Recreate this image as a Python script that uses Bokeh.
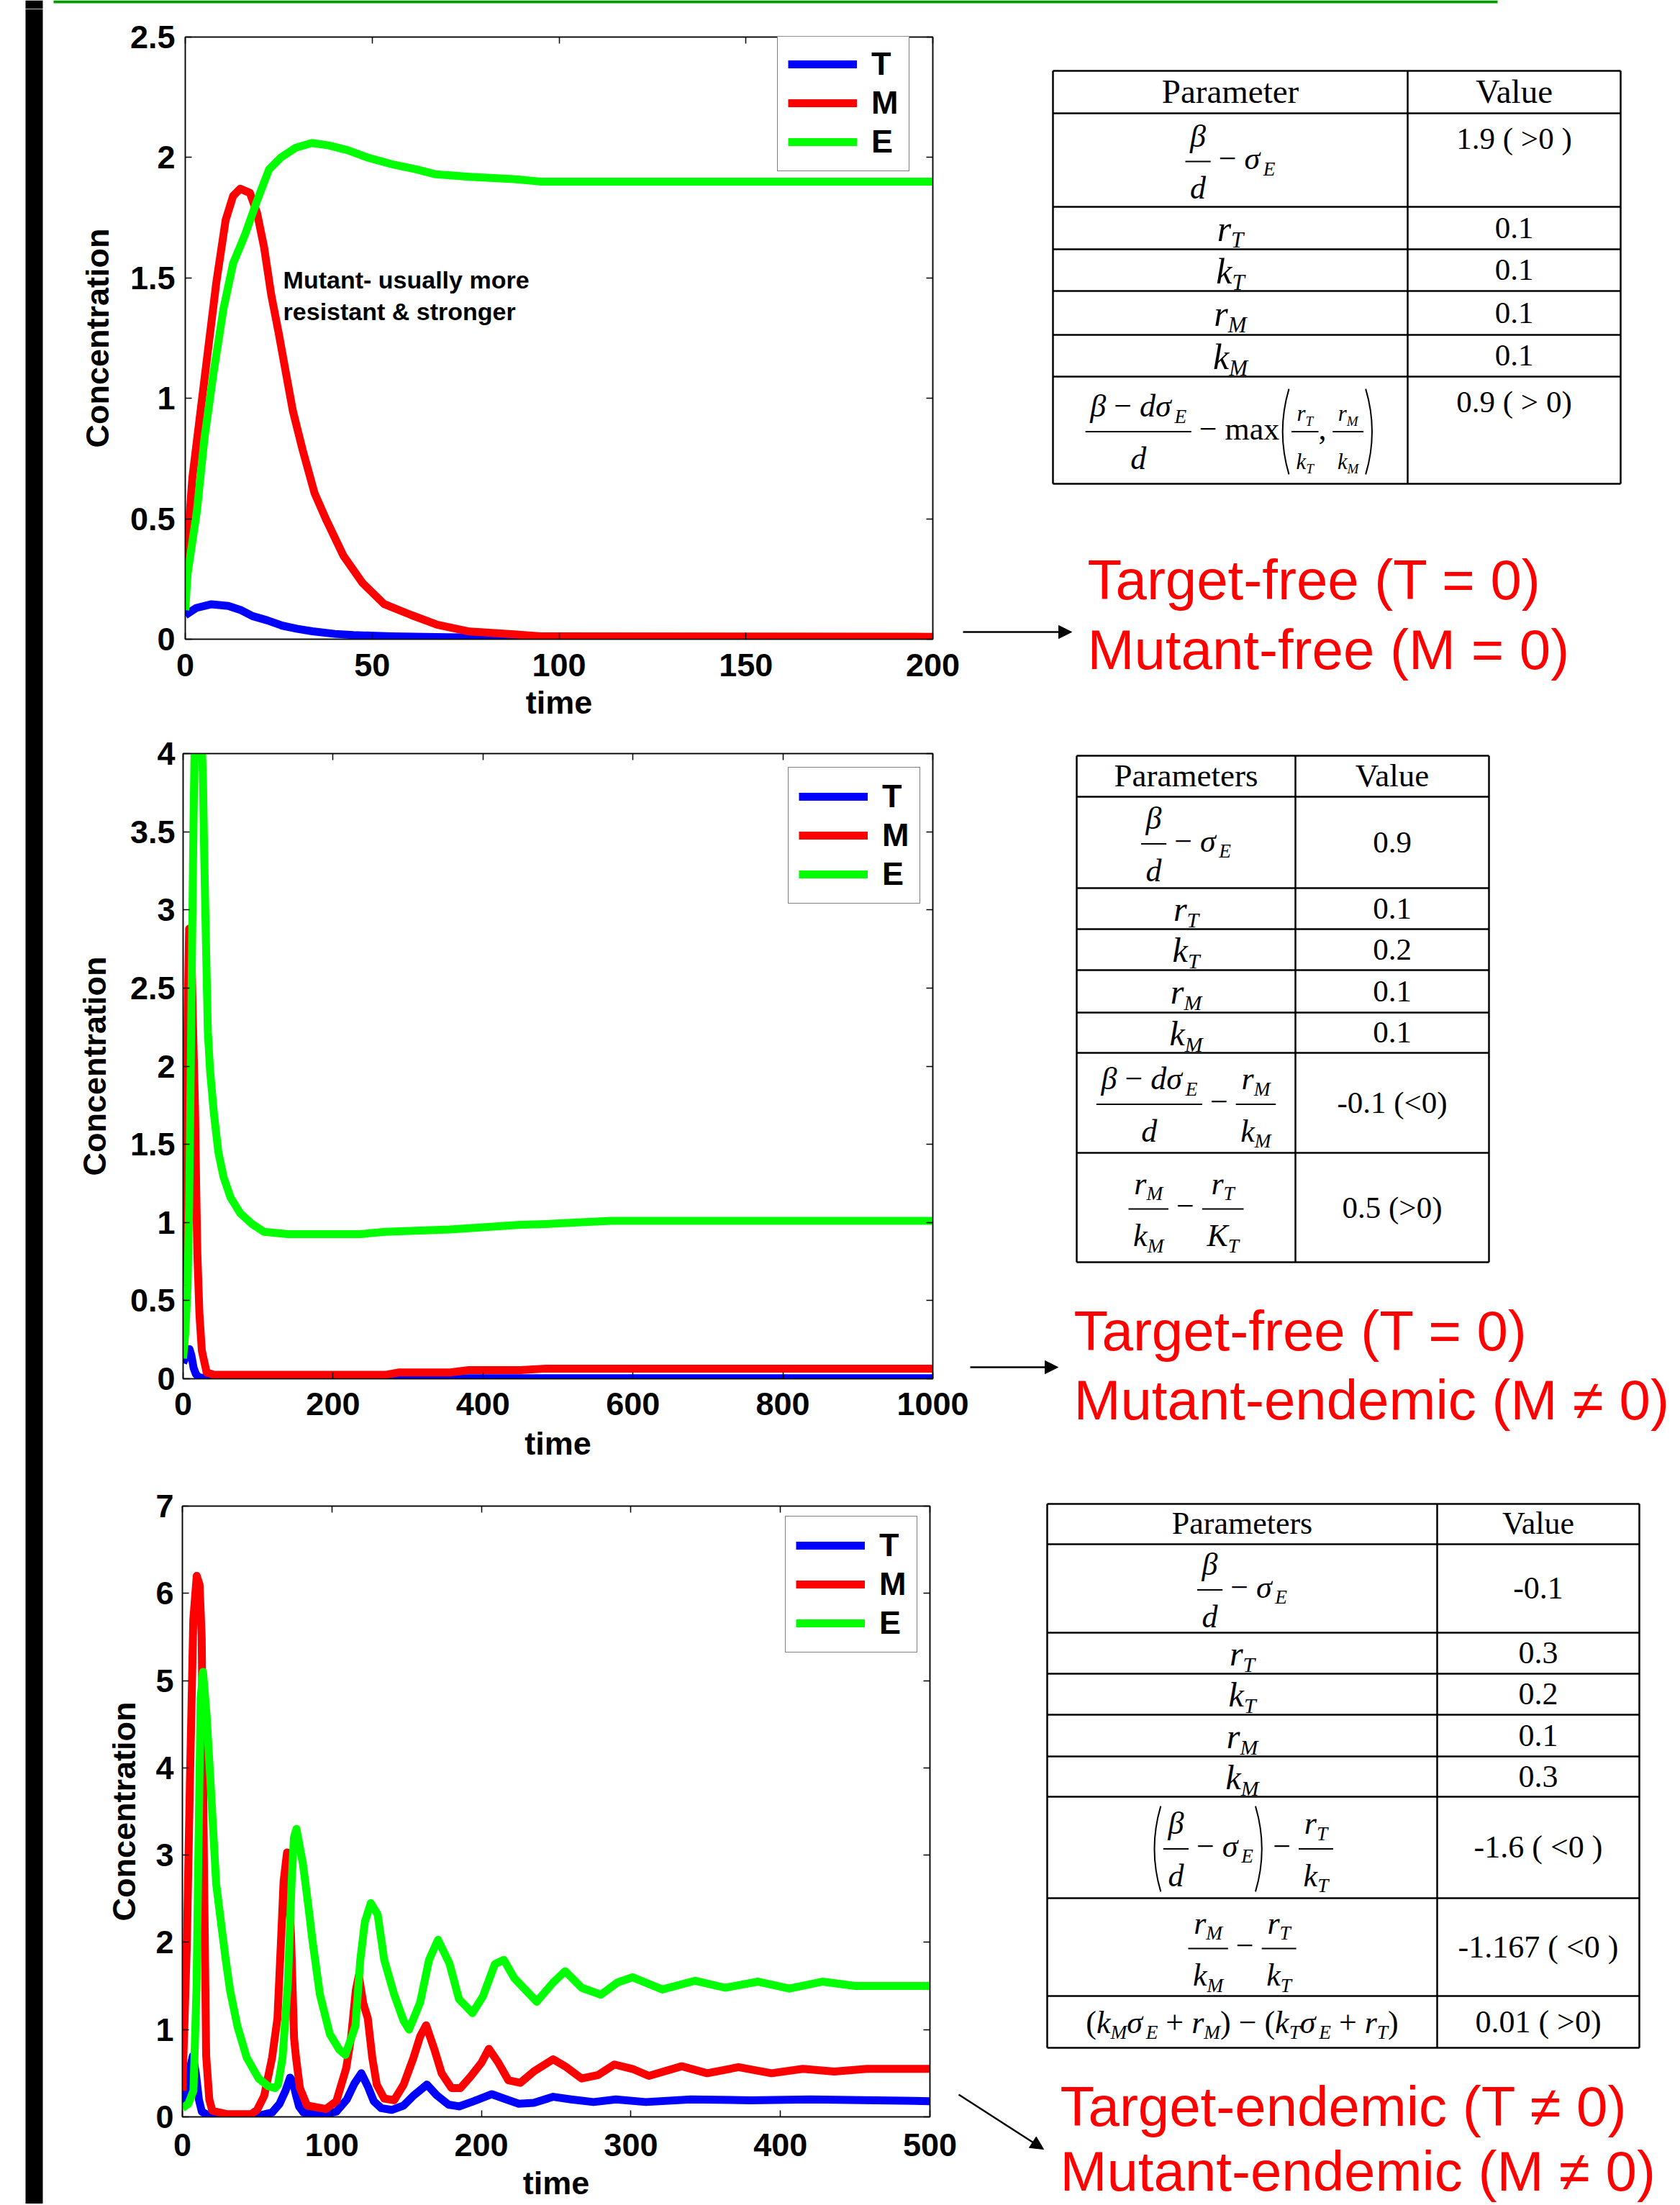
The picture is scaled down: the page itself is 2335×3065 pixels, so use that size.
from bokeh.plotting import figure
from bokeh.models import (Range1d, FixedTicker, LinearAxis, CustomJSTickFormatter,
                          Label, Arrow, NormalHead, ColumnDataSource)
from bokeh.layouts import row, column
from bokeh.embed import file_html
from bokeh.resources import INLINE
from bokeh.core.properties import value

SANS = "Liberation Sans"
SERIF = "Liberation Serif"
BLUE, RED, GREEN = "#0000FF", "#FF0000", "#00FF00"
LW = 11
MID = 0.35  # offset from baseline to the visual middle of a text line, in em

# ---------------- chart data ----------------
# chart 1
C1_X_TICKS = [0, 50, 100, 150, 200]
C1_Y_TICKS = [0, 0.5, 1, 1.5, 2, 2.5]
C1_T_t = [0, 3, 7, 11.5, 15, 18, 22, 26, 30, 34, 40, 45, 55, 70, 90, 200]
C1_T_v = [0.10, 0.13, 0.145, 0.138, 0.12, 0.096, 0.078, 0.056, 0.043, 0.033, 0.022, 0.017, 0.012, 0.008, 0.005, 0.003]
C1_M_t = [0, 1.9, 5.1, 8.3, 10.8, 12.8, 14.7, 17.3, 19.2, 21.1, 23, 25, 26.9, 28.8, 31.4, 34.6, 37.8, 42.3,
          47.4, 53.2, 60.5, 67.4, 76, 88, 95, 200]
C1_M_v = [0.27, 0.67, 1.075, 1.48, 1.74, 1.84, 1.87, 1.853, 1.77, 1.626, 1.43, 1.27, 1.108, 0.947, 0.786, 0.606,
          0.493, 0.347, 0.234, 0.146, 0.10, 0.06, 0.032, 0.02, 0.012, 0.01]
C1_E_t = [0, 0.6, 3.1, 5.1, 7.6, 10.2, 12.8, 16, 19.2, 22.4, 25.6, 29.5, 33.9, 38.4, 43.5, 48.7, 55.8, 62, 67,
          76, 88, 95, 200]
C1_E_v = [0.12, 0.27, 0.53, 0.83, 1.11, 1.37, 1.56, 1.68, 1.82, 1.95, 2.0, 2.04, 2.06, 2.05, 2.03, 2.0, 1.97,
          1.95, 1.93, 1.92, 1.91, 1.90, 1.90]
C1_NOTE = ["Mutant- usually more", "resistant & stronger"]
C1_NOTE_X = 26.2
C1_NOTE_Y = [1.493, 1.362]

# chart 2
C2_X_TICKS = [0, 200, 400, 600, 800, 1000]
C2_Y_TICKS = [0, 0.5, 1, 1.5, 2, 2.5, 3, 3.5, 4]
C2_T_t = [0, 5, 8.5, 11, 14, 17, 21, 30, 1000]
C2_T_v = [0.1, 0.16, 0.19, 0.15, 0.07, 0.03, 0.01, 0.003, 0.003]
C2_M_t = [0, 1.6, 4.8, 8, 10.5, 13, 16, 17.5, 19, 21.8, 25, 31.4, 41, 270, 287, 356, 381, 450, 484, 1000]
C2_M_v = [0.2, 0.93, 1.97, 2.88, 2.88, 2.3, 1.7, 1.2, 0.8, 0.41, 0.18, 0.04, 0.025, 0.025, 0.04, 0.04, 0.055,
          0.055, 0.065, 0.065]
C2_E_t = [0, 3, 6, 8, 10, 12, 14, 15.5, 19, 24, 26.6, 28, 29.8, 31.4, 33, 36, 41, 47, 54, 63.3, 76, 92, 108,
          140, 236, 270, 356, 450, 484, 570, 1000]
C2_E_v = [0.13, 0.3, 0.6, 1.1, 1.9, 2.8, 3.6, 4.1, 4.4, 4.2, 3.82, 3.39, 2.95, 2.58, 2.22, 1.97, 1.70, 1.45,
          1.29, 1.16, 1.06, 0.99, 0.94, 0.925, 0.925, 0.94, 0.955, 0.985, 0.99, 1.01, 1.01]

# chart 3
C3_X_TICKS = [0, 100, 200, 300, 400, 500]
C3_Y_TICKS = [0, 1, 2, 3, 4, 5, 6, 7]
C3_T_t = [0, 3, 5, 7, 9, 11, 13, 17, 50, 60, 65, 69, 72, 74, 76, 78, 81, 95, 103, 110, 115, 119.7, 124, 128,
          133, 140, 148, 155, 163.6, 170, 178, 185, 195, 207, 215, 225, 235, 248, 260, 275, 290, 310, 340, 380,
          420, 500]
C3_T_v = [0.1, 0.3, 0.55, 0.7, 0.5, 0.2, 0.06, 0.02, 0.01, 0.05, 0.15, 0.3, 0.45, 0.4, 0.25, 0.12, 0.05, 0.03,
          0.06, 0.2, 0.38, 0.5, 0.35, 0.18, 0.1, 0.08, 0.13, 0.25, 0.37, 0.25, 0.14, 0.12, 0.18, 0.26, 0.21, 0.15,
          0.16, 0.23, 0.2, 0.17, 0.2, 0.17, 0.2, 0.19, 0.2, 0.18]
C3_M_t = [0, 3, 5, 7.3, 9.6, 11.5, 12.9, 14.6, 15.9, 18, 20, 30, 46, 50, 54.7, 60, 63.6, 66, 67.7, 70, 72.6,
          74.7, 76, 78.6, 83.4, 96, 103, 109.6, 112.9, 116, 118, 121, 124, 127, 130, 135, 141.6, 148, 154.6,
          159, 163, 168.6, 173.4, 180, 186, 192.7, 200, 205, 211, 218, 226, 235, 248, 256, 267, 278, 289, 301,
          312, 334, 351, 372, 394, 415, 436, 458, 500]
C3_M_v = [0.3, 2.0, 3.8, 5.7, 6.2, 6.1, 5.5, 2.6, 0.7, 0.2, 0.07, 0.03, 0.03, 0.08, 0.24, 0.68, 1.13, 2.03, 2.7,
          3.03, 2.1, 0.9, 0.68, 0.33, 0.13, 0.09, 0.18, 0.56, 0.92, 1.45, 1.62, 1.3, 1.13, 0.68, 0.37, 0.21, 0.19,
          0.37, 0.68, 0.92, 1.05, 0.77, 0.5, 0.33, 0.33, 0.46, 0.62, 0.78, 0.63, 0.42, 0.39, 0.52, 0.66, 0.58,
          0.44, 0.48, 0.6, 0.55, 0.47, 0.58, 0.5, 0.57, 0.5, 0.55, 0.52, 0.55, 0.55]
C3_E_t = [0, 4, 7.4, 9.5, 10.6, 12.2, 13.8, 16.2, 18.6, 22.6, 25.8, 29, 32, 36.8, 43, 51, 57.5, 62, 64, 67,
          70.6, 73, 74.6, 76.3, 80.6, 84, 87, 92, 98.6, 105, 109, 115.7, 119, 122, 126, 130.6, 135, 141.7, 148,
          151.6, 159, 165, 171, 178.6, 185, 194, 201, 209, 215, 222, 237, 248, 256, 267, 280, 291, 301, 321, 343,
          363, 385, 406, 428, 450, 500]
C3_E_v = [0.1, 0.15, 0.3, 1.5, 2.9, 4.8, 5.1, 4.6, 3.9, 2.67, 2.23, 1.8, 1.44, 1.04, 0.68, 0.44, 0.35, 0.33,
          0.37, 0.68, 1.55, 2.67, 3.2, 3.3, 2.9, 2.45, 2.02, 1.4, 0.95, 0.77, 0.71, 1.04, 1.8, 2.23, 2.45, 2.32,
          1.8, 1.4, 1.1, 1.0, 1.31, 1.8, 2.03, 1.76, 1.35, 1.19, 1.38, 1.75, 1.8, 1.59, 1.32, 1.54, 1.67, 1.48,
          1.4, 1.54, 1.6, 1.46, 1.56, 1.48, 1.55, 1.47, 1.55, 1.5, 1.5]

# ---------------- tables ----------------
def I(s): return ("i", s)
def U(s): return ("u", s)
def S(s): return ("_", s)
def SP(e): return ("sp", e)
def FR(n, d, k=1.0): return ("frac", n, d, k)
def PA(inner): return ("par", inner)
MINUS = [SP(0.25), U("\u2212"), SP(0.25)]
PLUS = [SP(0.25), U("+"), SP(0.25)]

BD_SIGMA = [FR([I("\u03b2")], [I("d")]), *MINUS, I("\u03c3"), S("E")]
NUM_BDS = [I("\u03b2"), *MINUS, I("d"), I("\u03c3"), S("E")]
rT = [I("r"), S("T")]
kT = [I("k"), S("T")]
rM = [I("r"), S("M")]
kM = [I("k"), S("M")]
KT = [I("K"), S("T")]

T1_HEADER = ["Parameter", "Value"]
T1_PARAMS = [BD_SIGMA, rT, kT, rM, kM,
             [FR(NUM_BDS, [I("d")]), *MINUS, U("max"),
              PA([FR(rT, kT, 0.7), U(","), SP(0.2), FR(rM, kM, 0.7)])]]
T1_VALUES = ["1.9 ( >0 )", "0.1", "0.1", "0.1", "0.1", "0.9 ( > 0)"]
T1_VALIGN = ["top", "mid", "mid", "mid", "mid", "top"]

T2_HEADER = ["Parameters", "Value"]
T2_PARAMS = [BD_SIGMA, rT, kT, rM, kM,
             [FR(NUM_BDS, [I("d")]), *MINUS, FR(rM, kM)],
             [FR(rM, kM), *MINUS, FR(rT, KT)]]
T2_VALUES = ["0.9", "0.1", "0.2", "0.1", "0.1", "-0.1 (<0)", "0.5 (>0)"]
T2_VALIGN = ["mid"] * 7

T3_HEADER = ["Parameters", "Value"]
T3_PARAMS = [BD_SIGMA, rT, kT, rM, kM,
             [PA(BD_SIGMA), *MINUS, FR(rT, kT)],
             [FR(rM, kM), *MINUS, FR(rT, kT)],
             [U("("), I("k"), S("M"), I("\u03c3"), S("E"), *PLUS, I("r"), S("M"), U(")"), *MINUS,
              U("("), I("k"), S("T"), I("\u03c3"), S("E"), *PLUS, I("r"), S("T"), U(")")]]
T3_VALUES = ["-0.1", "0.3", "0.2", "0.1", "0.3", "-1.6 ( <0 )", "-1.167 ( <0 )", "0.01 ( >0)"]
T3_VALIGN = ["mid"] * 8

OUTCOME_1 = ["Target-free (T = 0)", "Mutant-free (M = 0)"]
OUTCOME_2 = ["Target-free (T = 0)", "Mutant-endemic (M \u2260 0)"]
OUTCOME_3 = ["Target-endemic (T \u2260 0)", "Mutant-endemic (M \u2260 0)"]

# ---------------- page layout (page pixel geometry) ----------------
PAGE_W = 2334
STRIP_H = 12
LEFT_W = 70
ROWS_Y = [(STRIP_H, 1020), (1020, 2060), (2060, 3063)]
CHART_RIGHT = [1336, 1346, 1330]
FRAMES = [(257, 1296, 51, 888), (254, 1296, 1047, 1916), (253, 1292, 2093, 2942)]
LEGEND_BOX = [(1080, 238), (1095, 1256), (1091, 2297)]
# (column edges, row edges, (formula, symbol, value, header) font sizes)
TABLE_GEOM = [
    ([1463, 1956, 2252], [98, 157, 287, 346, 404, 465, 523, 672], (44, 50, 43, 47)),
    ([1496, 1800, 2069], [1050, 1107, 1234, 1291, 1348, 1407, 1463, 1602, 1754], (44, 48, 43, 45)),
    ([1455, 1997, 2278], [2090, 2146, 2269, 2326, 2383, 2441, 2497, 2638, 2774, 2846], (44, 48, 44, 44)),
]
OUT_TEXT_POS = [(1511, [833, 930]), (1492, [1877, 1973]), (1473, [2955, 3045])]
ARROWS = [((1338, 878), (1489, 878)), ((1348, 1900), (1470, 1900)), ((1332, 2911), (1450, 2987))]
AXIS_STANDOFFS = [(20, 8, 14, 17), (19, 11, 11, 21), (23, 9, 12, 15)]

# ---------------- helpers ----------------
WU = {c: 0.5 for c in "0123456789"}
WU.update({".": .25, " ": .25, "(": .333, ")": .333, "<": .564, ">": .564, "-": .333, "\u2212": .564,
           "+": .564, ",": .25, "m": .778, "a": .444, "x": .5})
WI = {"\u03b2": .5, "\u03c3": .6, "d": .5, "r": .389, "k": .444, "T": .556, "M": .833, "E": .611, "K": .667}
SUB = 0.62


def no_align(p):
    if "frame_align" in p.properties():
        p.frame_align = False
    return p


def tw(s, size, style):
    tab = WI if style == "italic" else WU
    return sum(tab.get(c, 0.5) for c in s) * size


def measure(toks, s):
    w = 0.0
    for t in toks:
        k = t[0]
        if k == "i":
            w += tw(t[1], s, "italic")
        elif k == "u":
            w += tw(t[1], s, "normal")
        elif k == "_":
            w += tw(t[1], s * SUB, "italic")
        elif k == "sp":
            w += t[1] * s
        elif k == "frac":
            fs = s * t[3]
            w += max(measure(t[1], fs), measure(t[2], fs)) + 0.3 * s
        elif k == "par":
            w += measure(t[1], s) + 0.75 * s
    return w


def new_acc():
    mk = lambda: dict(x=[], y=[], text=[], size=[])
    return {"italic": mk(), "normal": mk(), "center": mk(), "bar": [], "border": [], "par": []}


def add_text(acc, key, x, base, s, size):
    """base is the alphabetic baseline; stored y is the line middle."""
    d = acc[key]
    d["x"].append(x); d["y"].append(base - MID * size); d["text"].append(s); d["size"].append("%.1fpx" % size)


def draw(toks, x, ay, s, acc):
    base = ay + 0.27 * s
    for t in toks:
        k = t[0]
        if k in ("i", "u"):
            st = "italic" if k == "i" else "normal"
            add_text(acc, st, x, base, t[1], s)
            x += tw(t[1], s, st)
        elif k == "_":
            add_text(acc, "italic", x, base + 0.18 * s, t[1], s * SUB)
            x += tw(t[1], s * SUB, "italic")
        elif k == "sp":
            x += t[1] * s
        elif k == "frac":
            fs = s * t[3]
            wn, wd = measure(t[1], fs), measure(t[2], fs)
            wb = max(wn, wd) + 0.3 * s
            acc["bar"].append((x, ay, x + wb, ay))
            draw(t[1], x + (wb - wn) / 2, ay - 0.45 * fs - 0.27 * fs, fs, acc)
            draw(t[2], x + (wb - wd) / 2, ay + 1.2 * s - 0.27 * fs, fs, acc)
            x += wb
        elif k == "par":
            wi = measure(t[1], s)
            top, bot = ay - 1.35 * s, ay + 1.35 * s
            acc["par"].append((x + 0.3 * s, top, x + 0.3 * s, bot, x - 0.1 * s, ay))
            draw(t[1], x + 0.38 * s, ay, s, acc)
            xr = x + 0.38 * s + wi + 0.07 * s
            acc["par"].append((xr, top, xr, bot, xr + 0.4 * s, ay))
            x = xr + 0.3 * s
    return x


def draw_table(acc, xs, ys, header, params, vals, valign, sizes):
    fs, ss, vs, hs = sizes
    x0, xm, x1 = xs
    for y in ys:
        acc["border"].append((x0, y, x1, y))
    for x in xs:
        acc["border"].append((x, ys[0], x, ys[-1]))
    c1, c2 = (x0 + xm) / 2, (xm + x1) / 2
    hy = (ys[0] + ys[1]) / 2 + 0.33 * hs
    add_text(acc, "center", c1, hy, header[0], hs)
    add_text(acc, "center", c2, hy, header[1], hs)
    for i, toks in enumerate(params):
        top, bot = ys[i + 1], ys[i + 2]
        cy = (top + bot) / 2
        cplx = any(t[0] in ("frac", "par") for t in toks)
        size = fs if (cplx or len(toks) > 2) else ss
        ay = cy + 2 if cplx else cy + 0.1 * size
        w = measure(toks, size)
        draw(toks, c1 - w / 2, ay, size, acc)
        vy = top + 50 if valign[i] == "top" else cy + 0.34 * vs
        add_text(acc, "center", c2, vy, vals[i], vs)


def y_formatter():
    return CustomJSTickFormatter(code="return String(Math.round(tick * 10) / 10);")


def style_axis(ax, ticks, show, standoff=10, lab_standoff=5):
    ax.ticker = FixedTicker(ticks=ticks)
    ax.major_tick_in = 9
    ax.major_tick_out = 0
    ax.minor_tick_line_color = None
    ax.axis_line_color = "black"
    ax.axis_line_width = 1.5
    ax.major_tick_line_color = "black"
    ax.major_tick_line_width = 1.5
    if show:
        ax.major_label_text_font = SANS
        ax.major_label_text_font_style = "bold"
        ax.major_label_text_font_size = "45px"
        ax.major_label_text_color = "black"
        ax.major_label_standoff = standoff
        ax.axis_label_text_font = SANS
        ax.axis_label_text_font_style = "bold"
        ax.axis_label_text_font_size = "45px"
        ax.axis_label_text_color = "black"
        ax.axis_label_standoff = lab_standoff
    else:
        ax.major_label_text_font_size = "0px"
        ax.major_label_text_color = None
        ax.major_label_standoff = 0


def make_chart(idx, xticks, yticks, series):
    fl, fr, ft, fb = FRAMES[idx]
    y0, y1 = ROWS_Y[idx]
    w = CHART_RIGHT[idx] - LEFT_W
    h = y1 - y0
    std = AXIS_STANDOFFS[idx]
    p = figure(width=w, height=h, x_range=Range1d(xticks[0], xticks[-1]),
               y_range=Range1d(yticks[0], yticks[-1]), toolbar_location=None, output_backend="svg")
    no_align(p)
    p.min_border_left = fl - LEFT_W
    p.min_border_right = CHART_RIGHT[idx] - fr
    p.min_border_top = ft - y0
    p.min_border_bottom = y1 - fb
    p.grid.visible = False
    p.outline_line_color = "black"
    p.outline_line_width = 1.5
    p.background_fill_color = "white"
    p.border_fill_color = "white"
    for (t, v, c, lab) in series:
        p.line(t, v, line_color=c, line_width=LW, line_join="round", legend_label=lab)
    style_axis(p.xaxis[0], xticks, True, std[0], std[1])
    style_axis(p.yaxis[0], yticks, True, std[2], std[3])
    p.xaxis[0].axis_label = "time"
    p.yaxis[0].axis_label = "Concentration"
    p.yaxis[0].formatter = y_formatter()
    ra = LinearAxis()
    style_axis(ra, yticks, False)
    p.add_layout(ra, "right")
    ta = LinearAxis()
    style_axis(ta, xticks, False)
    p.add_layout(ta, "above")
    lg = p.legend[0]
    lx, lb = LEGEND_BOX[idx]
    lg.location = (lx - fl, fb - lb)
    lg.label_text_font = SANS
    lg.label_text_font_style = "bold"
    lg.label_text_font_size = "45px"
    lg.label_text_color = "black"
    lg.glyph_width = 96
    lg.glyph_height = 50
    lg.label_height = 50
    lg.label_standoff = 20
    lg.padding = 14
    lg.spacing = 2
    lg.margin = 0
    lg.border_line_color = "black"
    lg.border_line_width = 1.5
    lg.background_fill_alpha = 1.0
    return p


def blank_fig(w, h, xr, yr):
    p = figure(width=w, height=h, x_range=Range1d(*xr), y_range=Range1d(*yr),
               x_axis_type=None, y_axis_type=None, toolbar_location=None, output_backend="svg",
               min_border=0, outline_line_color=None)
    no_align(p)
    p.background_fill_color = "white"
    p.border_fill_color = "white"
    return p


def make_panel(idx, table, outcome):
    x0 = CHART_RIGHT[idx]
    w = PAGE_W - x0
    y0, y1 = ROWS_Y[idx]
    p = blank_fig(w, y1 - y0, (x0, x0 + w), (y1, y0))
    acc = new_acc()
    xs, ys, sizes = TABLE_GEOM[idx]
    header, params, vals, valign = table
    draw_table(acc, xs, ys, header, params, vals, valign, sizes)
    b = acc["border"]
    p.segment(x0=[s[0] for s in b], y0=[s[1] for s in b], x1=[s[2] for s in b], y1=[s[3] for s in b],
              line_color="black", line_width=2.5)
    fb = acc["bar"]
    if fb:
        p.segment(x0=[s[0] for s in fb], y0=[s[1] for s in fb], x1=[s[2] for s in fb], y1=[s[3] for s in fb],
                  line_color="black", line_width=1.8)
    pr = acc["par"]
    if pr:
        p.quadratic(x0=[s[0] for s in pr], y0=[s[1] for s in pr], x1=[s[2] for s in pr], y1=[s[3] for s in pr],
                    cx=[s[4] for s in pr], cy=[s[5] for s in pr], line_color="black", line_width=2)
    for key, style, align in (("italic", "italic", "left"), ("normal", "normal", "left"),
                              ("center", "normal", "center")):
        d = acc[key]
        if not d["x"]:
            continue
        src = ColumnDataSource(dict(x=d["x"], y=d["y"], text=d["text"], size=d["size"]))
        p.text(x="x", y="y", text="text", source=src, text_font=value(SERIF), text_font_size="size",
               text_font_style=style, text_color="black", text_baseline="middle", text_align=align)
    tx, tys = OUT_TEXT_POS[idx]
    p.text(x=[tx, tx], y=[b_ - MID * 78 for b_ in tys], text=outcome, text_font=value(SANS),
           text_font_size="78px", text_color=RED, text_baseline="middle", text_align="left")
    (ax0, ay0), (ax1, ay1) = ARROWS[idx]
    p.add_layout(Arrow(end=NormalHead(size=18, fill_color="black", line_color="black"),
                       x_start=ax0, y_start=ay0, x_end=ax1, y_end=ay1, line_width=2.5, line_color="black"))
    return p


# ---------------- build ----------------
c1 = make_chart(0, C1_X_TICKS, C1_Y_TICKS,
                [(C1_T_t, C1_T_v, BLUE, "T"), (C1_M_t, C1_M_v, RED, "M"), (C1_E_t, C1_E_v, GREEN, "E")])
for txt, yy in zip(C1_NOTE, C1_NOTE_Y):
    c1.add_layout(Label(x=C1_NOTE_X, y=yy, text=txt, text_font=SANS, text_font_style="bold",
                        text_font_size="34px", text_color="black", text_baseline="middle"))
c2 = make_chart(1, C2_X_TICKS, C2_Y_TICKS,
                [(C2_T_t, C2_T_v, BLUE, "T"), (C2_M_t, C2_M_v, RED, "M"), (C2_E_t, C2_E_v, GREEN, "E")])
c3 = make_chart(2, C3_X_TICKS, C3_Y_TICKS,
                [(C3_T_t, C3_T_v, BLUE, "T"), (C3_M_t, C3_M_v, RED, "M"), (C3_E_t, C3_E_v, GREEN, "E")])

r1 = make_panel(0, (T1_HEADER, T1_PARAMS, T1_VALUES, T1_VALIGN), OUTCOME_1)
r2 = make_panel(1, (T2_HEADER, T2_PARAMS, T2_VALUES, T2_VALIGN), OUTCOME_2)
r3 = make_panel(2, (T3_HEADER, T3_PARAMS, T3_VALUES, T3_VALIGN), OUTCOME_3)

strip = blank_fig(PAGE_W, STRIP_H, (0, PAGE_W), (STRIP_H, 0))
strip.quad(left=[35, 74], right=[59, 2081], top=[0, 0], bottom=[STRIP_H, 4],
           fill_color=["black", "#009A00"], line_color=None)

total_h = ROWS_Y[-1][1] - ROWS_Y[0][0]
leftbar = blank_fig(LEFT_W, total_h, (0, LEFT_W), (ROWS_Y[-1][1], ROWS_Y[0][0]))
leftbar.quad(left=[35], right=[59], top=[ROWS_Y[0][0]], bottom=[ROWS_Y[-1][1]], fill_color="black",
             line_color=None)

layout = column(strip, row(leftbar, column(row(c1, r1), row(c2, r2), row(c3, r3))))

with open("out.html", "w") as f:
    f.write(file_html(layout, INLINE))
